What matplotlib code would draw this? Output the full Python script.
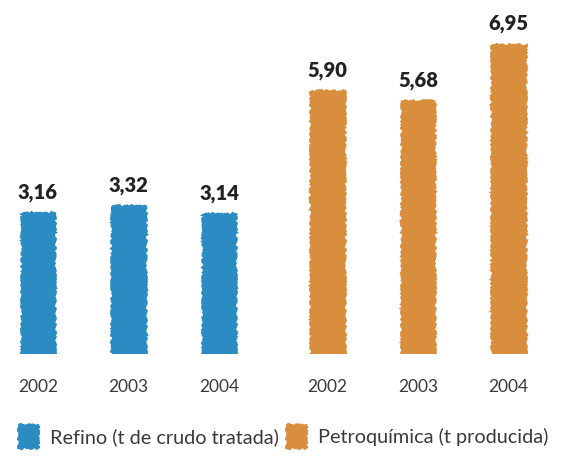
import matplotlib
matplotlib.use("Agg")
import matplotlib.pyplot as plt
from matplotlib.patches import Patch

years = ["2002", "2003", "2004"]
refino = [3.16, 3.32, 3.14]
petro = [5.90, 5.68, 6.95]
series_names = ["Refino (t de crudo tratada)", "Petroquímica (t producida)"]
colors = ["#2b8cc4", "#d98e3d"]

W, H = 569, 460
fig = plt.figure(figsize=(W / 100, H / 100), dpi=100)
ax = fig.add_axes([0, (H - 355) / H, 1, 355 / H])
ax.set_xlim(-38 / 90.5, (W - 38) / 90.5)
ax.set_ylim(0, 355 / 44.5)
ax.axis("off")

pos_r = [0, 1, 2]
pos_p = [3.2, 4.2, 5.2]
for pos, vals, c in [(pos_r, refino, colors[0]), (pos_p, petro, colors[1])]:
    bars = ax.bar(pos, vals, width=0.36, color=c, edgecolor=c, linewidth=2)
    for b in bars:
        b.set_sketch_params(scale=1.0, length=4, randomness=10)
    for x, v in zip(pos, vals):
        ax.annotate(f"{v:.2f}".replace(".", ","), (x, v), xytext=(0, 9),
                    textcoords="offset points", ha="center", va="bottom",
                    fontsize=14.5, fontweight="heavy", family="Lato", color="#222222")
    for x, y in zip(pos, years):
        ax.annotate(y, (x, 0), xytext=(0, -23), textcoords="offset points",
                    ha="center", va="center", fontsize=12.5, family="Lato",
                    fontweight="normal", color="#3a3a3a")

handles = [Patch(facecolor=colors[0], edgecolor=colors[0]),
           Patch(facecolor=colors[1], edgecolor=colors[1])]
leg = fig.legend(handles, series_names, loc="lower left", bbox_to_anchor=(0.0, -0.015),
                 ncol=2, frameon=False, handlelength=1.0, handleheight=1.5,
                 columnspacing=0.4, handletextpad=0.6,
                 prop={"family": "Lato", "weight": "normal", "size": 14.3})
for t in leg.get_texts():
    t.set_color("#3a3a3a")
for p in leg.get_patches():
    p.set_sketch_params(scale=1.0, length=4, randomness=10)

fig.savefig("out.png", dpi=100)
